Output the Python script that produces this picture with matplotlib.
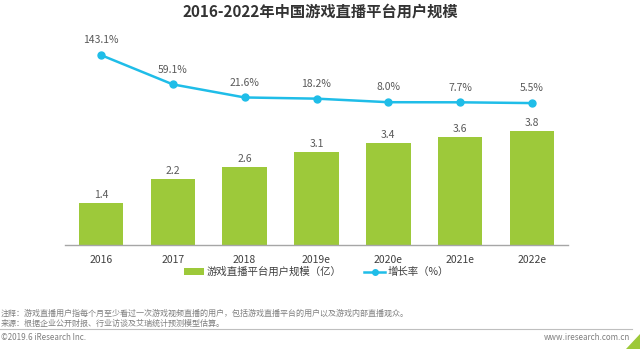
import matplotlib
matplotlib.use("Agg")
import matplotlib.pyplot as plt
from matplotlib.lines import Line2D
from matplotlib.patches import Patch, Polygon

plt.rcParams['font.family'] = ['Noto Sans CJK SC', 'DejaVu Sans']

categories = ["2016", "2017", "2018", "2019e", "2020e", "2021e", "2022e"]
users = [1.4, 2.2, 2.6, 3.1, 3.4, 3.6, 3.8]
growth = [143.1, 59.1, 21.6, 18.2, 8.0, 7.7, 5.5]

title = "2016-2022年中国游戏直播平台用户规模"
bar_label = "游戏直播平台用户规模（亿）"
line_label = "增长率（%）"
note = "注释：游戏直播用户指每个月至少看过一次游戏视频直播的用户，包括游戏直播平台的用户以及游戏内部直播观众。"
source = "来源：根据企业公开财报、行业访谈及艾瑞统计预测模型估算。"
copyright_txt = "©2019.6 iResearch Inc."
site = "www.iresearch.com.cn"

W, H = 640, 349
fig = plt.figure(figsize=(6.4, 3.49), dpi=100)

def fx(px):
    return px / W

def fy(py):
    return 1 - py / H

ax_left, ax_right, ax_top, ax_bottom = 65, 568, 30, 245
ax = fig.add_axes([fx(ax_left), fy(ax_bottom), fx(ax_right - ax_left), (ax_bottom - ax_top) / H])

bar_color = "#9dc93a"
line_color = "#1fbde8"
text_gray = "#595959"

x = list(range(len(categories)))
ax.bar(x, users, width=0.62, color=bar_color, zorder=2)
ax.set_xlim(-0.5, 6.5)
px_per_unit = 30.0
ax.set_ylim(0, (ax_bottom - ax_top) / px_per_unit)
for xi, v in zip(x, users):
    ax.annotate(f"{v}", (xi, v), xytext=(0, 2.5), textcoords="offset points",
                ha="center", va="bottom", fontsize=7.5, color=text_gray)

for s in ["top", "right", "left"]:
    ax.spines[s].set_visible(False)
ax.spines["bottom"].set_color("#a6a6a6")
ax.spines["bottom"].set_linewidth(1.0)
ax.set_yticks([])
ax.set_xticks(x)
ax.set_xticklabels(categories, fontsize=7.5, color="#404040")
ax.tick_params(axis="x", length=0, pad=7)

ax2 = ax.twinx()
px_per_pct = 0.349
zero_px = 105.0  # pixel row of 0%
lo = -(ax_bottom - zero_px) / px_per_pct
hi = lo + (ax_bottom - ax_top) / px_per_pct
ax2.set_ylim(lo, hi)
ax2.plot(x, growth, color=line_color, lw=1.8, marker="o", ms=5, zorder=3)
for xi, v in zip(x, growth):
    ax2.annotate(f"{v:.1f}%", (xi, v), xytext=(0, 7), textcoords="offset points",
                 ha="center", va="bottom", fontsize=7.5, color=text_gray)
ax2.axis("off")

fig.text(0.5, fy(12), title, ha="center", va="center", fontsize=11,
         fontweight="bold", color="#333333")

handles = [Patch(facecolor=bar_color, edgecolor="none"),
           Line2D([0], [0], color=line_color, lw=1.8, marker="o", ms=4)]
fig.legend(handles, [bar_label, line_label], loc="center", bbox_to_anchor=(fx(316), fy(272)),
           ncol=2, frameon=False, fontsize=7.5, handlelength=2.0, handleheight=0.6,
           columnspacing=2.2, handletextpad=0.2, labelcolor="#404040")

fs_foot = 5.8
fig.text(fx(1), fy(313), note, ha="left", va="center", fontsize=fs_foot, color="#7f7f7f")
fig.text(fx(1), fy(323), source, ha="left", va="center", fontsize=fs_foot, color="#7f7f7f")
fig.add_artist(Line2D([fx(0), fx(632)], [fy(328.5), fy(328.5)], color="#bfbfbf", lw=0.8))
fig.text(fx(1), fy(338), copyright_txt, ha="left", va="center", fontsize=fs_foot, color="#7f7f7f")
fig.text(fx(630), fy(338), site, ha="right", va="center", fontsize=fs_foot, color="#7f7f7f")
fig.add_artist(Polygon([[fx(640), fy(334)], [fx(640), fy(349)], [fx(626), fy(349)]],
                       closed=True, color="#9dc93a", transform=fig.transFigure))

fig.savefig("out.png", dpi=100)
